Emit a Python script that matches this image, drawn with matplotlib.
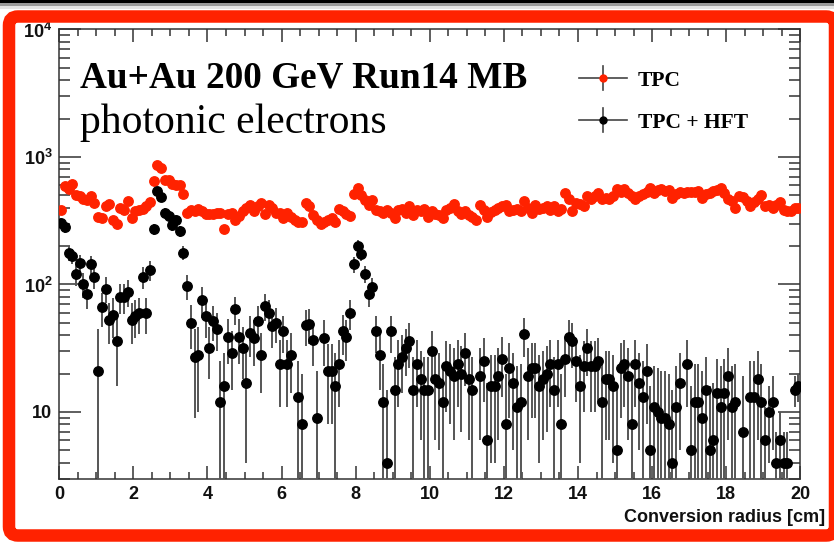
import numpy as np
import matplotlib.pyplot as plt
from matplotlib import ticker
from matplotlib.patches import FancyBboxPatch, Rectangle

plt.rcParams['font.family'] = ['Liberation Sans', 'DejaVu Sans']
plt.rcParams['font.weight'] = 'bold'
plt.rcParams['mathtext.fontset'] = 'custom'
plt.rcParams['mathtext.rm'] = 'Liberation Sans:bold'
plt.rcParams['mathtext.bf'] = 'Liberation Sans:bold'
plt.rcParams['mathtext.it'] = 'Liberation Sans:bold'

nan = np.nan

# conversion radius, 0.1 cm bins from 0 to 20 cm
bin_edges = np.linspace(0, 20, 201)
radius = 0.5 * (bin_edges[:-1] + bin_edges[1:])

# TPC only (red), one row per cm
tpc = [
    385, 590, 560, 610, 505, 490, 465, 460, 495, 435,
    340, 330, 410, 425, 320, 300, 400, 385, 450, 330,
    380, 385, 390, 410, 445, 650, 865, 815, 660, 660,
    615, 605, 605, 515, 365, 385, 380, 390, 380, 360,
    360, 355, 365, 365, 272, 360, 365, 320, 345, 375,
    400, 420, 375, 410, 435, 355, 420, 400, 365, 365,
    330, 365, 340, 320, 310, 310, 435, 410, 350, 320,
    300, 310, 320, 330, 310, 390, 375, 360, 345, 510,
    570, 505, 460, 420, 460, 385, 375, 365, 385, 365,
    330, 385, 390, 365, 410, 350, 385, 375, 390, 340,
    375, 360, 350, 330, 385, 400, 430, 375, 360, 375,
    350, 340, 320, 420, 385, 340, 370, 385, 400, 410,
    420, 375, 385, 390, 375, 455, 400, 365, 420, 390,
    400, 410, 385, 410, 375, 390, 520, 465, 375, 435,
    430, 410, 495, 470, 490, 520, 465, 480, 465, 490,
    560, 530, 560, 520, 490, 465, 490, 510, 535, 575,
    520, 550, 560, 540, 550, 475, 510, 535, 520, 530,
    530, 535, 545, 475, 510, 520, 545, 550, 570, 520,
    465, 450, 400, 490, 485, 450, 410, 440, 465, 505,
    410, 420, 400, 420, 445, 385, 380, 375, 400, 400,
]

# TPC + HFT (black)
hft = [
    305, 281, 176, 167, 121, 148, 100, 84, 144, 114,
    21, 66, 93, 53, 58, 36, 80, 80, 88, 53,
    57, 60, 114, 60, 130, 271, 541, 488, 366, 345,
    293, 320, 263, 178, 97, 50, 27, 28, 75, 57,
    32, 52, 45, 12, 16, 39, 29, 64, 39, 32,
    17, 42, 38, 52, 28, 68, 60, 47, 50, 24,
    43, 24, 28, nan, 13, 8, 48, 49, 37, 9,
    nan, 38, 21, 21, 16, 24, 43, 39, 60, 144,
    200, 173, 121, 84, 95, 43, 28, 12, 4, 43,
    15, 24, 27, 32, 36, 15, 24, 18, 15, 15,
    30, 18, 17, 12, 23, 21, 19, 24, 20, 29,
    18, 15, nan, 19, 25, 6, 16, 16, 19, 26,
    8, 22, 17, 11, 12, 41, 19, 22, 22, 16,
    18, 20, 24, 15, 24, 8, 26, 39, 36, 25,
    16, 23, 32, 23, 23, 25, 12, 18, 18, 16,
    5, 22, 24, 19, 8, 24, 17, 13, 21, 5,
    11, 10, 9, 9, 8, 4, 11, 17, nan, 24,
    5, 12, 12, 9, 15, 5, 6, 14, 11, 14,
    19, 11, 12, nan, 7, nan, 13, 13, 18, 12,
    6, 10, 12, 4, 6, 4, 4, nan, 15, 16,
]

hft_err = [
    28, 27, 23, 23, 24, 23, 22, 20, 23, 22,
    24, 20, 22, 19, 20, 20, 21, 21, 21, 19,
    19, 19, 22, 19, 23, 28, 36, 34, 30, 30,
    28, 29, 27, 23, 21, 19, 18, 18, 20, 19,
    14, 16, 15, 13, 13, 15, 14, 16, 15, 14,
    13, 15, 15, 16, 14, 16, 16, 15, 15, 13,
    14, 13, 14, 0, 12, 12, 15, 15, 14, 12,
    0, 15, 13, 13, 13, 13, 15, 14, 16, 20,
    23, 21, 19, 17, 17, 14, 13, 12, 11, 14,
    12, 13, 13, 13, 14, 12, 13, 12, 12, 12,
    13, 12, 12, 12, 13, 13, 13, 13, 13, 13,
    12, 12, 0, 13, 13, 11, 12, 12, 13, 13,
    12, 13, 12, 12, 12, 14, 13, 13, 13, 12,
    12, 13, 13, 12, 13, 12, 13, 14, 14, 13,
    12, 13, 13, 13, 13, 13, 12, 12, 12, 12,
    11, 13, 13, 13, 12, 13, 12, 12, 13, 11,
    12, 12, 12, 12, 12, 11, 12, 12, 0, 13,
    11, 12, 12, 12, 12, 11, 11, 12, 12, 12,
    13, 12, 12, 0, 12, 0, 12, 12, 12, 12,
    5, 6, 7, 3, 4, 3, 3, 0, 4, 4,
]

RED = '#ff2200'
AXC = '#333333'

fig = plt.figure(figsize=(8.34, 5.42), dpi=100)
ax = fig.add_axes([0.0711, 0.1162, 0.8885, 0.8294])

tpc_a = np.array(tpc, dtype=float)
hft_a = np.array(hft, dtype=float)
err_a = np.array(hft_err, dtype=float)
err_lo = np.minimum(err_a, hft_a * 0.999)

ax.plot(radius, tpc_a, 'o', color=RED, mec=RED, ms=6.8, zorder=3)
ax.errorbar(radius, hft_a, yerr=[err_lo, err_a], fmt='o', color='black',
            ms=6.8, ecolor='#555555', elinewidth=1.4, capsize=0, zorder=4)

ax.set_yscale('log')
ax.set_xlim(0, 20)
ax.set_ylim(2.98, 1e4)

ax.xaxis.set_major_locator(ticker.MultipleLocator(2))
ax.xaxis.set_minor_locator(ticker.MultipleLocator(0.5))
ax.yaxis.set_major_locator(ticker.LogLocator(base=10, numticks=10))
ax.yaxis.set_minor_locator(ticker.LogLocator(base=10, subs=np.arange(2, 10), numticks=20))
ax.yaxis.set_minor_formatter(ticker.NullFormatter())


def ylab(v, pos):
    e = int(round(np.log10(v)))
    if e == 1:
        return '10'
    return r'$10^{%d}$' % e


ax.yaxis.set_major_formatter(ticker.FuncFormatter(ylab))

ax.tick_params(which='both', direction='in', top=True, right=True,
               color=AXC, width=1.1, labelsize=13, labelcolor='#111111')
ax.tick_params(axis='x', which='major', length=9.4, pad=5)
ax.tick_params(axis='x', which='minor', length=4.7)
ax.tick_params(axis='y', which='major', length=15.8, pad=5)
ax.tick_params(axis='y', which='minor', length=8)
for s in ax.spines.values():
    s.set_color(AXC)
    s.set_linewidth(1.1)

fig.text(825 / 834, 1 - 518 / 542, 'Conversion radius [cm]', ha='right',
         va='center', fontsize=13, color='#111111')

ax.text(0.0279, 0.872, 'Au+Au 200 GeV Run14 MB', transform=ax.transAxes,
        family='Liberation Serif', weight='bold', fontsize=26.8, va='baseline')
ax.text(0.0279, 0.7697, 'photonic electrons', transform=ax.transAxes,
        family='Liberation Serif', weight='normal', fontsize=30, va='baseline')

# legend, drawn by hand in ROOT style
for yl, mc, lab in [(0.892, RED, 'TPC'), (0.7987, 'black', 'TPC + HFT')]:
    ax.plot([0.7013, 0.7661], [yl, yl], color='#444444', lw=1.2,
            transform=ax.transAxes, clip_on=False, zorder=5)
    ax.plot([0.7337, 0.7337], [yl - 0.0267, yl + 0.0267], color='#444444',
            lw=1.2, transform=ax.transAxes, clip_on=False, zorder=5)
    ax.plot([0.7337], [yl], 'o', color=mc, mec=mc, ms=5,
            transform=ax.transAxes, zorder=6)
    ax.text(0.7810, yl - 0.006, lab, transform=ax.transAxes, family='Liberation Serif',
            weight='bold', fontsize=15.5, va='center')

# slide frame: top bar with shadow and red rounded border
fig.add_artist(Rectangle((0, 533), 834, 3, fc='#e4e4e4', ec='none', transform=None))
fig.add_artist(Rectangle((0, 536), 834, 3, fc='#9a9a9a', ec='none', transform=None))
fig.add_artist(Rectangle((0, 539), 834, 3, fc='black', ec='none', transform=None))
fig.add_artist(FancyBboxPatch((9, 6.5), 826, 519,
                              boxstyle='round,pad=0,rounding_size=9',
                              lw=9, ec=RED, fc='none', transform=None))

fig.savefig('out.png', dpi=100)
